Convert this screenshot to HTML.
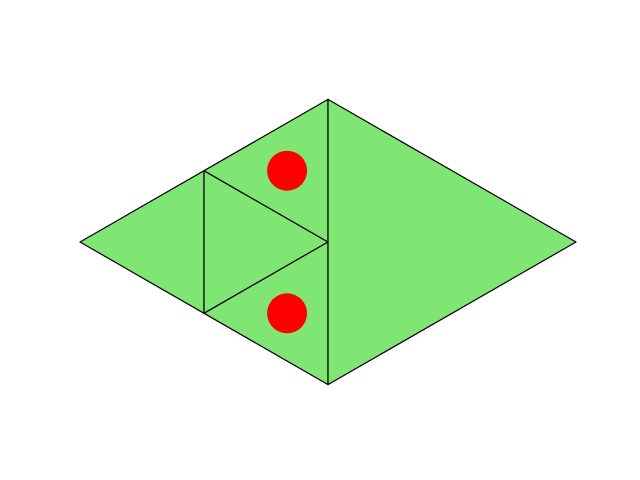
<!DOCTYPE html>
<html><head><meta charset="utf-8"><style>
html,body{margin:0;padding:0;background:#fff;width:640px;height:480px;overflow:hidden}
</style></head><body>
<svg id="chart" width="640" height="480" xmlns="http://www.w3.org/2000/svg"></svg>
<script>
const vertexX = [0, 2, 4, 2, 1, 1, 2];
const vertexY = [0, 2, 0, -2, 1, -1, 0];
const triangles = [[0,4,5],[4,6,5],[4,1,6],[5,6,3],[1,2,3]];
const markerX = [1.67, 1.67];
const markerY = [1, -1];

function sx(x){ return 80 + x * 124; }
function sy(y){ return 242 - y * 71.3; }
const svg = document.getElementById('chart');
const NS = 'http://www.w3.org/2000/svg';
triangles.forEach((t, i) => {
  const p = document.createElementNS(NS, 'polygon');
  p.setAttribute('points', t.map(k => sx(vertexX[k]) + ',' + sy(vertexY[k])).join(' '));
  p.setAttribute('fill', '#80e673');
  p.setAttribute('stroke', '#000');
  p.setAttribute('stroke-width', '1.2');
  p.setAttribute('stroke-linejoin', 'round');
  
  
  svg.appendChild(p);
});
markerX.forEach((x, i) => {
  const c = document.createElementNS(NS, 'circle');
  c.setAttribute('cx', sx(x));
  c.setAttribute('cy', sy(markerY[i]));
  c.setAttribute('r', 20);
  c.setAttribute('fill', '#ff0000');
  
  
  svg.appendChild(c);
});
</script>
</body></html>
